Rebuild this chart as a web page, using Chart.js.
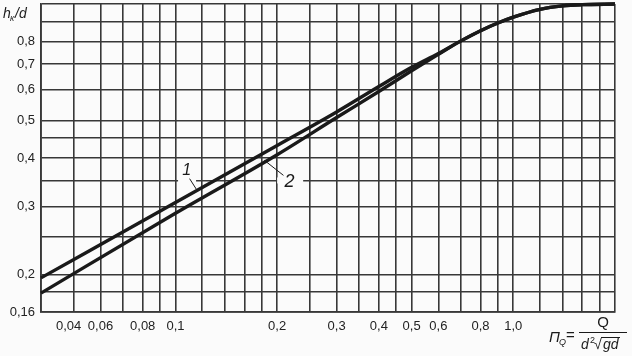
<!DOCTYPE html>
<html><head><meta charset="utf-8">
<script src="https://cdn.jsdelivr.net/npm/chart.js@4/dist/chart.umd.min.js"></script>
<style>html,body{margin:0;padding:0;background:#fbfbfb;}</style>
</head><body>
<canvas id="c" width="632" height="356"></canvas>
<script>
// ---- data (log-log nomogram) ----
const xValues = [0.04, 0.1, 0.2, 0.3, 0.4, 0.5, 0.6, 0.7, 0.8, 0.9, 1.0, 1.2, 1.4, 1.6, 2.0];
const curve1  = [0.196, 0.307, 0.431, 0.526, 0.612, 0.686, 0.745, 0.803, 0.853, 0.893, 0.925, 0.969, 0.989, 0.996, 1.0];
const curve2  = [0.179, 0.288, 0.408, 0.509, 0.594, 0.672, 0.741, 0.803, 0.853, 0.893, 0.925, 0.969, 0.989, 0.996, 1.0];
const curveNames = ["1", "2"];

const xGridValues = [0.04,0.05,0.06,0.07,0.08,0.09,0.1,0.12,0.14,0.16,0.18,0.2,0.25,0.3,0.35,0.4,0.45,0.5,0.6,0.7,0.8,0.9,1.0,1.2,1.4,1.6,1.8,2.0];
// the "0,04" label is printed off its border line in the reference, next to the first inner line
const xLabelOnlyValues = [0.0483];
const xLabelValues = [0.0483, 0.06, 0.08, 0.1, 0.2, 0.3, 0.4, 0.5, 0.6, 0.8, 1.0];
const xLabelTexts  = ["0,04", "0,06", "0,08", "0,1", "0,2", "0,3", "0,4", "0,5", "0,6", "0,8", "1,0"];
const yGridValues = [0.16,0.18,0.2,0.25,0.3,0.35,0.4,0.45,0.5,0.6,0.7,0.8,0.9,1.0];
const yLabelValues = [0.16, 0.2, 0.3, 0.4, 0.5, 0.6, 0.7, 0.8];
const yLabelTexts  = ["0,16", "0,2", "0,3", "0,4", "0,5", "0,6", "0,7", "0,8"];

const BG = '#fbfbfb';
const INK = '#1a1a1a';
const GRID = '#383838';
const FONT = '"Liberation Sans", Arial, sans-serif';

function labelFor(values, texts, v) {
  for (let i = 0; i < values.length; i++) if (Math.abs(values[i] - v) < 1e-9) return texts[i];
  return '';
}
function isLabelOnly(v) { return xLabelOnlyValues.some(w => Math.abs(w - v) < 1e-9); }
function toPoints(xs, ys) { return xs.map((x, i) => ({x: x, y: ys[i]})); }

const annot = {
  id: 'annot',
  beforeDatasetsDraw(chart) {
    const ctx = chart.ctx, xs = chart.scales.x, ys = chart.scales.y;
    const y = ys.getPixelForValue(0.35);
    ctx.save();
    ctx.fillStyle = BG;
    // gaps in the 0,35 grid line behind the curve labels
    ctx.fillRect(xs.getPixelForValue(0.1018), y - 3, 18, 6);
    ctx.fillRect(xs.getPixelForValue(0.2), y - 3, 26, 6);
    ctx.restore();
  },
  afterDraw(chart) {
    const ctx = chart.ctx, xs = chart.scales.x, ys = chart.scales.y;
    ctx.save();
    ctx.fillStyle = INK; ctx.strokeStyle = INK;
    // curve labels with leader lines
    const l1x = xs.getPixelForValue(0.1079), l1y = ys.getPixelForValue(0.371);
    ctx.font = 'italic 16px ' + FONT; ctx.textAlign = 'center'; ctx.textBaseline = 'middle';
    ctx.fillText(curveNames[0], l1x, l1y);
    ctx.lineWidth = 1;
    ctx.beginPath(); ctx.moveTo(l1x + 3, l1y + 8); ctx.lineTo(l1x + 10, l1y + 19); ctx.stroke();
    const l2x = xs.getPixelForValue(0.2175), l2y = ys.getPixelForValue(0.346);
    ctx.font = 'italic 18px ' + FONT;
    ctx.fillText(curveNames[1], l2x, l2y);
    ctx.beginPath(); ctx.moveTo(l2x - 6, l2y - 7); ctx.lineTo(l2x - 25, l2y - 22); ctx.stroke();

    // y axis title  h_к/d
    ctx.textAlign = 'left'; ctx.textBaseline = 'alphabetic';
    ctx.font = 'italic 14px ' + FONT;
    ctx.fillText('h', 3, 18);
    ctx.font = 'italic 9px ' + FONT;
    ctx.fillText('к', 10, 21);
    ctx.font = 'italic 14px ' + FONT;
    ctx.fillText('/d', 15, 18);

    // x axis title  П_Q = Q / (d² √gd)
    ctx.font = 'italic 15px ' + FONT;
    ctx.fillText('П', 549, 342);
    ctx.font = 'italic 9px ' + FONT;
    ctx.fillText('Q', 559, 345);
    ctx.font = '15px ' + FONT;
    ctx.fillText('=', 566, 340);
    ctx.textAlign = 'center';
    ctx.fillText('Q', 603, 327);
    ctx.lineWidth = 1;
    ctx.beginPath(); ctx.moveTo(579, 332.5); ctx.lineTo(627, 332.5); ctx.stroke();
    ctx.textAlign = 'left';
    ctx.font = 'italic 14px ' + FONT;
    ctx.fillText('d', 581, 349);
    ctx.font = '9px ' + FONT;
    ctx.fillText('2', 590, 343);
    ctx.font = '14px ' + FONT;
    ctx.fillText('√', 594, 349);
    ctx.font = 'italic 14px ' + FONT;
    ctx.fillText('gd', 603, 349);
    ctx.beginPath(); ctx.moveTo(601, 337.5); ctx.lineTo(620, 337.5); ctx.stroke();
    ctx.restore();
  }
};

const bgPlugin = {
  id: 'bg',
  beforeDraw(chart) {
    const ctx = chart.ctx; ctx.save(); ctx.fillStyle = BG;
    ctx.fillRect(0, 0, chart.width, chart.height); ctx.restore();
  }
};

const xTickValues = xGridValues.concat(xLabelOnlyValues).sort((a, b) => a - b);

new Chart(document.getElementById('c'), {
  type: 'line',
  data: {
    datasets: [
      {label: curveNames[0], data: toPoints(xValues, curve1)},
      {label: curveNames[1], data: toPoints(xValues, curve2)}
    ]
  },
  options: {
    responsive: false,
    animation: false,
    devicePixelRatio: 1,
    layout: {padding: {top: 4, right: 17, left: 0, bottom: 0}},
    elements: {
      point: {radius: 0},
      line: {borderColor: INK, borderWidth: 3.4, cubicInterpolationMode: 'monotone', fill: false}
    },
    datasets: {line: {clip: false}},
    plugins: {legend: {display: false}, tooltip: {enabled: false}},
    scales: {
      x: {
        type: 'logarithmic', min: 0.04, max: 2.0,
        afterBuildTicks(axis) { axis.ticks = xTickValues.map(v => ({value: v})); },
        afterFit(axis) { axis.height = 44; axis.paddingLeft = 0; axis.paddingRight = 0; },
        grid: {
          color: (c) => (c.tick && isLabelOnly(c.tick.value)) ? 'rgba(0,0,0,0)' : GRID,
          lineWidth: 1.6, drawTicks: false
        },
        border: {display: true, color: GRID, width: 1.8},
        ticks: {
          autoSkip: false, maxRotation: 0, padding: 7, color: '#222',
          font: {family: FONT, size: 13},
          callback: (v) => labelFor(xLabelValues, xLabelTexts, v)
        }
      },
      y: {
        type: 'logarithmic', min: 0.16, max: 1.0,
        afterBuildTicks(axis) { axis.ticks = yGridValues.map(v => ({value: v})); },
        afterFit(axis) { axis.width = 41; axis.paddingTop = 0; axis.paddingBottom = 0; },
        grid: {color: GRID, lineWidth: 1.6, drawTicks: false},
        border: {display: true, color: GRID, width: 1.8},
        ticks: {
          autoSkip: false, padding: 6, color: '#222',
          font: {family: FONT, size: 13},
          callback: (v) => labelFor(yLabelValues, yLabelTexts, v)
        }
      }
    }
  },
  plugins: [bgPlugin, annot]
});
</script>
</body></html>
